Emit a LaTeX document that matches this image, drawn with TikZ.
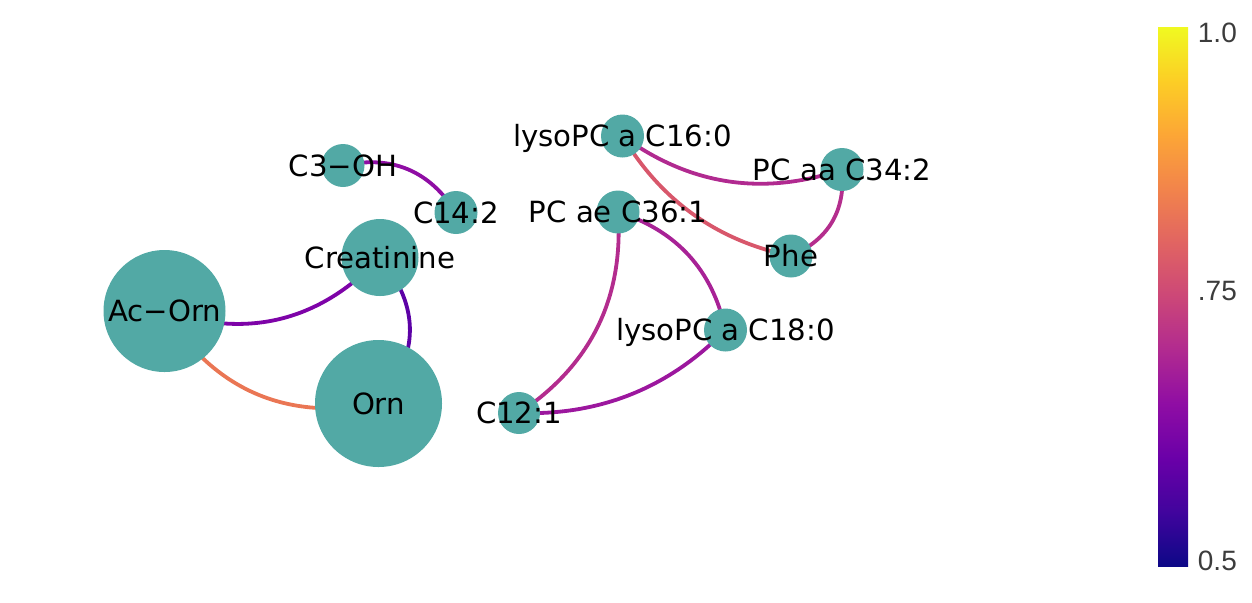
\documentclass[tikz,border=0pt]{standalone}
\usepackage{fontspec}
\setmainfont{DejaVu Sans}
\newfontfamily\tickfont{Liberation Sans}
\usetikzlibrary{calc}
\pgfdeclarelayer{background}
\pgfsetlayers{background,main}

\definecolor{nodeteal}{HTML}{52A9A5}
\definecolor{tickgray}{HTML}{3C3C3C}
\definecolor{pl0}{HTML}{0D0887}
\definecolor{pl1}{HTML}{41049D}
\definecolor{pl2}{HTML}{6A00A8}
\definecolor{pl3}{HTML}{8F0DA4}
\definecolor{pl4}{HTML}{B12A90}
\definecolor{pl5}{HTML}{CC4778}
\definecolor{pl6}{HTML}{E16462}
\definecolor{pl7}{HTML}{F2844B}
\definecolor{pl8}{HTML}{FCA636}
\definecolor{pl9}{HTML}{FCCE25}
\definecolor{pl10}{HTML}{F0F921}

\definecolor{e1}{HTML}{8F0DA4}
\definecolor{e2}{HTML}{7E03A8}
\definecolor{e3}{HTML}{5C01A6}
\definecolor{e4}{HTML}{EA7654}
\definecolor{e5}{HTML}{B12A90}
\definecolor{e6}{HTML}{D8576B}
\definecolor{e7}{HTML}{B42E8D}
\definecolor{e8}{HTML}{B32C8E}
\definecolor{e9}{HTML}{A82296}
\definecolor{e10}{HTML}{9C179E}

\pgfdeclareverticalshading{plasmabar}{100bp}{color(0bp)=(pl0); color(25bp)=(pl0); color(30bp)=(pl1); color(35bp)=(pl2); color(40bp)=(pl3); color(45bp)=(pl4); color(50bp)=(pl5); color(55bp)=(pl6); color(60bp)=(pl7); color(65bp)=(pl8); color(70bp)=(pl9); color(75bp)=(pl10); color(100bp)=(pl10)}

\newcommand{\arclink}[4]{%
  \coordinate (ctl) at ($(#1)!0.5!(#2)!#3!-90:(#2)$);
  \draw[link,#4] (#1.center) .. controls ($(#1)!0.6667!(ctl)$) and ($(#2)!0.6667!(ctl)$) .. (#2.center);}

\begin{document}
\begin{tikzpicture}[x=0.5pt,y=-0.5pt,
  metab/.style={circle, fill=nodeteal, draw=none, inner sep=0pt, minimum size=#1},
  lbl/.style={font=\fontsize{14.6}{17}\selectfont, anchor=base, text=black, inner sep=0pt},
  tick/.style={font=\tickfont\fontsize{14}{16}\selectfont, anchor=base west, text=tickgray, inner sep=0pt},
  link/.style={line width=1.9pt}]
\useasboundingbox (0,0) rectangle (1252,602);

% nodes
\node[metab=61pt] (acorn) at (164.5,311) {};
\node[metab=63.5pt] (orn) at (378.5,403.5) {};
\node[metab=38.5pt] (creat) at (380,257.5) {};
\node[metab=21.5pt] (c3oh) at (343,165.5) {};
\node[metab=21.5pt] (c142) at (456,212.5) {};
\node[metab=21.5pt] (lpc16) at (622.5,136) {};
\node[metab=21.5pt] (pc34) at (842,169.5) {};
\node[metab=21.5pt] (pc36) at (618,212) {};
\node[metab=21.5pt] (phe) at (791,256) {};
\node[metab=21.5pt] (lpc18) at (725.5,330) {};
\node[metab=21pt] (c121) at (519,413) {};

% edges
\begin{pgfonlayer}{background}
\arclink{c142}{c3oh}{0.70}{e1}
\arclink{acorn}{creat}{0.64}{e2}
\arclink{orn}{creat}{0.84}{e3}
\arclink{acorn}{orn}{0.68}{e4}
\arclink{lpc16}{pc34}{0.52}{e5}
\arclink{lpc16}{phe}{0.44}{e6}
\arclink{phe}{pc34}{0.72}{e7}
\arclink{c121}{pc36}{0.58}{e8}
\arclink{lpc18}{pc36}{0.58}{e9}
\arclink{c121}{lpc18}{0.44}{e10}
\end{pgfonlayer}

% labels
\node[lbl] (acornl) at (164.5,321.7) {Ac−Orn};
\node[lbl] (ornl) at (378.5,414.2) {Orn};
\node[lbl] (creatl) at (380,268.2) {Creatinine};
\node[lbl] (c3ohl) at (343,176.2) {C3−OH};
\node[lbl] (c142l) at (456,223.2) {C14:2};
\node[lbl] (lpc16l) at (622.5,146.7) {lysoPC a C16:0};
\node[lbl] (pc34l) at (842,180.2) {PC aa C34:2};
\node[lbl] (pc36l) at (618,222.7) {PC ae C36:1};
\node[lbl] (phel) at (791,266.7) {Phe};
\node[lbl] (lpc18l) at (725.5,340.7) {lysoPC a C18:0};
\node[lbl] (c121l) at (519,423.7) {C12:1};

% colour bar
\node[shade, shading=plasmabar, draw=none, inner sep=0pt, minimum width=15pt, minimum height=269.5pt] (cbar) at (1173,296.5) {};
\node[tick] (t10) at (1197.5,42) {1.0};
\node[tick] (t75) at (1197.5,300) {.75};
\node[tick] (t05) at (1197.5,570) {0.5};
\end{tikzpicture}
\end{document}
